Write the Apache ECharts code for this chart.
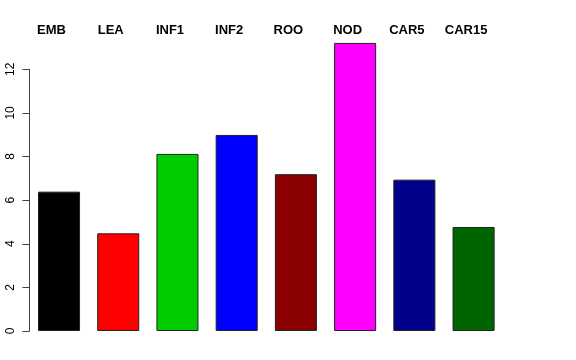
<!DOCTYPE html>
<html><head><meta charset="utf-8">
<script src="https://cdn.jsdelivr.net/npm/echarts@6/dist/echarts.min.js"></script>
<style>html,body{margin:0;padding:0;background:#fff}#c{width:576px;height:360px}</style>
</head><body><div id="c"></div>
<script>
const categories = ["EMB","LEA","INF1","INF2","ROO","NOD","CAR5","CAR15"];
const values = [6.39, 4.48, 8.12, 8.99, 7.19, 13.21, 6.94, 4.77];
const colors = ["#000000","#FF0000","#00CD00","#0000FF","#8B0000","#FF00FF","#00008B","#006400"];
const yTicks = [0, 2, 4, 6, 8, 10, 12];

const pxPerUnit = (331 - 69.3) / 12;
const yMaxBars = 13.5;
const chart = echarts.init(document.getElementById('c'), null, {renderer:'canvas'});
chart.setOption({
  animation: false,
  backgroundColor: '#fff',
  grid: [
    {left: 29.4, right: 72.8, bottom: 29, top: 331 - yMaxBars * pxPerUnit},
    {left: 29.4, right: 72.8, bottom: 29, top: 69.3}
  ],
  xAxis: [
    {type: 'category', gridIndex: 0, data: categories, position: 'top',
     axisLine: {show: false}, axisTick: {show: false},
     axisLabel: {show: true, fontFamily: 'Liberation Sans, Arial, sans-serif', fontWeight: 'bold',
       fontSize: 13, color: '#000', margin: 0, padding: [0, 15, 0, 0]}},
    {type: 'category', gridIndex: 1, data: categories, show: false}
  ],
  yAxis: [
    {type: 'value', gridIndex: 0, min: 0, max: yMaxBars, show: false},
    {type: 'value', gridIndex: 1, min: 0, max: yTicks[yTicks.length-1], interval: 2,
     axisLine: {show: true, lineStyle: {color: '#444', width: 1}},
     axisTick: {show: true, length: 7, lineStyle: {color: '#444'}},
     splitLine: {show: false},
     axisLabel: {rotate: 90, margin: 13, fontSize: 12, color: '#000',
       fontFamily: 'Liberation Sans, Arial, sans-serif'}}
  ],
  series: [{
    type: 'bar', xAxisIndex: 0, yAxisIndex: 0,
    barCategoryGap: '29%',
    data: values.map((v, i) => ({value: v, itemStyle: {color: colors[i]}})),
    itemStyle: {borderColor: '#222', borderWidth: 1}
  }]
});
</script></body></html>
